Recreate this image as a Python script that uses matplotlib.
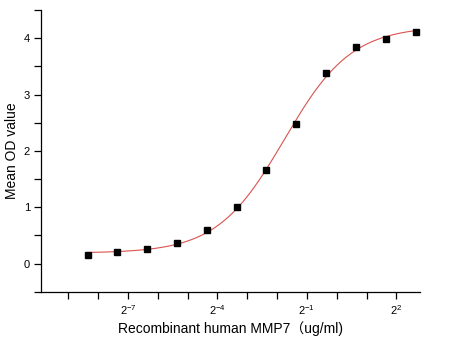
import numpy as np
import matplotlib
matplotlib.use("Agg")
import matplotlib.pyplot as plt
from matplotlib.ticker import FixedLocator, FixedFormatter, MultipleLocator

plt.rcParams['font.family'] = ['Liberation Sans', 'Noto Sans CJK SC', 'DejaVu Sans']
plt.rcParams['mathtext.fontset'] = 'custom'
plt.rcParams['mathtext.rm'] = 'Liberation Sans'
plt.rcParams['mathtext.it'] = 'Liberation Sans'

# MMP7 standard curve: 2-fold dilution series from 6.25 ug/ml
conc = 6.25 / 2.0 ** np.arange(11, -1, -1)
od = [0.16, 0.20, 0.255, 0.36, 0.59, 1.00, 1.66, 2.47, 3.39, 3.85, 3.99, 4.11]
major_exp = [-7, -4, -1, 2]
minor_exp = list(range(-9, 3))


def four_pl(x, a, d, c, b):
    return d + (a - d) / (1 + (x / c) ** b)


# 4-parameter logistic fit: grid over (c, b), a and d solved linearly
x = np.array(conc)
y = np.array(od)
best = None
for lc in np.linspace(-4, 1, 251):
    for b in np.linspace(0.5, 2.5, 201):
        g = 1 / (1 + (x / 2 ** lc) ** b)
        M = np.column_stack([g, 1 - g])
        coef, *_ = np.linalg.lstsq(M, y, rcond=None)
        err = np.sum((M @ coef - y) ** 2)
        if best is None or err < best[0]:
            best = (err, coef[0], coef[1], 2 ** lc, b)
_, a, d, c, b = best

xs = np.logspace(np.log2(x[0]), np.log2(x[-1]), 300, base=2)

fig = plt.figure(figsize=(4.53, 3.38), dpi=100)
ax = fig.add_axes([0.0905, 0.137, 0.837, 0.833])
ax.plot(xs, four_pl(xs, a, d, c, b), color='#d9534f', lw=0.8)
ax.plot(conc, od, 's', color='black', ms=4.5)

ax.set_xscale('log', base=2)
ax.set_xlim(2 ** -9.92, 2 ** 2.8)
ax.set_ylim(-0.5, 4.5)
ax.xaxis.set_major_locator(FixedLocator([2.0 ** e for e in major_exp]))
ax.xaxis.set_major_formatter(FixedFormatter(['2$^{%d}$' % e for e in major_exp]))
ax.xaxis.set_minor_locator(FixedLocator([2.0 ** e for e in minor_exp]))
ax.xaxis.set_minor_formatter(FixedFormatter([]))
ax.yaxis.set_major_locator(MultipleLocator(1))
ax.yaxis.set_minor_locator(MultipleLocator(0.5))

for s in ['top', 'right']:
    ax.spines[s].set_visible(False)
for s in ['left', 'bottom']:
    ax.spines[s].set_linewidth(0.9)
ax.tick_params(which='both', direction='out', width=0.9, labelsize=8)
ax.tick_params(which='major', length=5, pad=3)
ax.tick_params(which='minor', length=5)

ax.set_xlabel('Recombinant human MMP7（ug/ml)', fontsize=10, va='center')
ax.set_ylabel('Mean OD value', fontsize=10, va='center')
ax.xaxis.set_label_coords(0.5, -0.13)
ax.yaxis.set_label_coords(-0.077, 0.5)

fig.savefig('out.png', dpi=100)
